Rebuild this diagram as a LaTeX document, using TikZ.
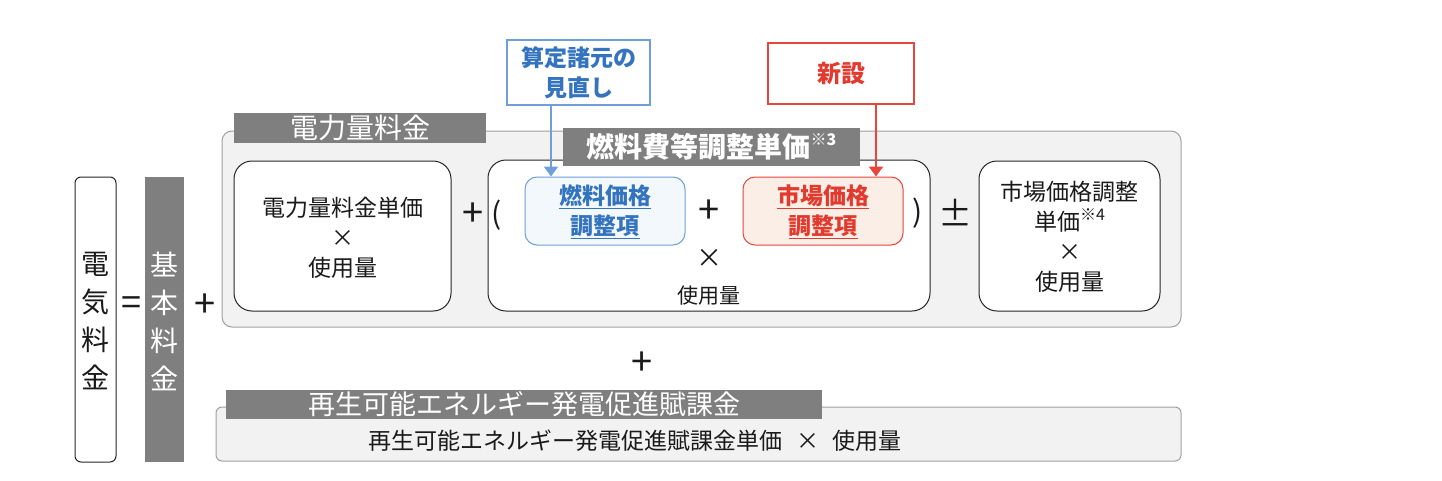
\documentclass[tikz,border=0pt]{standalone}
\usepackage{fontspec}
\setmainfont{Noto Sans CJK JP}
\usetikzlibrary{arrows.meta}
\definecolor{tabgray}{HTML}{7F7F7F}
\definecolor{panelfill}{HTML}{F2F2F2}
\definecolor{paneldraw}{HTML}{A0A0A0}
\definecolor{txtc}{HTML}{1A1A1A}
\definecolor{bluetxt}{HTML}{3474BE}
\definecolor{bluedraw}{HTML}{6F9FD8}
\definecolor{bluefill}{HTML}{F3F8FD}
\definecolor{redtxt}{HTML}{E23A2E}
\definecolor{reddraw}{HTML}{E8453C}
\definecolor{redfill}{HTML}{FBEEE6}
\newcommand{\fsz}[1]{\fontsize{#1}{#1}\selectfont}
\newcommand{\supnote}[1]{\raisebox{0.45em}{\fontsize{16}{16}\selectfont #1}}
\begin{document}
\begin{tikzpicture}[x=1pt,y=-1pt,
  every node/.style={inner sep=0pt, text=txtc},
  tabbox/.style={fill=tabgray, text=white},
  panel/.style={draw=paneldraw, fill=panelfill, line width=1pt, rounded corners=10pt},
  wbox/.style={draw=black!85, fill=white, line width=1pt, rounded corners=18pt},
  sym/.style={font=\fsz{38}},
  par/.style={font=\fsz{30}},
  bluearrow/.style={draw=bluedraw, line width=2pt, -{Triangle[length=10pt,width=14pt]}},
  redarrow/.style={draw=reddraw, line width=2pt, -{Triangle[length=10pt,width=14pt]}}]
\useasboundingbox (0,0) rectangle (1442,480);

% left column
\node[draw=black!85, fill=white, line width=1pt, rounded corners=6pt, minimum width=41pt, minimum height=285pt] (total) at (95.5,319.5) {};
\node[font=\fontsize{28}{38}\selectfont, align=center] (totaltxt) at (95.5,321) {電\\気\\料\\金};
\node[font=\fsz{36}] (eq) at (131,306) {=};
\node[fill=tabgray, minimum width=39pt, minimum height=285pt] (basic) at (164.5,319.5) {};
\node[font=\fontsize{28}{38}\selectfont, align=center, text=white] (basictxt) at (164.5,321) {基\\本\\料\\金};
\node[sym] (plus1) at (205,306) {+};

% energy charge panel
\node[panel, minimum width=959pt, minimum height=196pt] (panel) at (701.5,229) {};
\node[tabbox, minimum width=252pt, minimum height=30pt, font=\fsz{28}] (paneltab) at (360,128) {\textcolor{white}{電力量料金}};

\node[wbox, minimum width=217pt, minimum height=150pt] (box1) at (342.5,236) {};
\node[font=\fontsize{23}{30}\selectfont, align=center] (box1txt) at (342.5,238) {電力量料金単価\\×\\使用量};

\node[sym] (plus2) at (473,215) {+};

\node[wbox, minimum width=442pt, minimum height=151pt] (box2) at (709,235.5) {};
\node[par] (lpar) at (497,215) {(};
\node[tabbox, minimum width=297pt, minimum height=38pt, font=\bfseries\fsz{28}] (fueltab) at (711.5,147) {\textcolor{white}{燃料費等調整単価\supnote{※3}}};

\node[draw=bluedraw, fill=bluefill, line width=1pt, rounded corners=12pt, minimum width=160pt, minimum height=68pt] (blue) at (605,211) {};
\node[font=\bfseries\fontsize{23}{30}\selectfont, align=center, text=bluetxt] (bluetxt) at (605,212) {\underline{燃料価格}\\\underline{調整項}};
\node[sym] (plus3) at (709,212) {+};
\node[draw=reddraw, fill=redfill, line width=1pt, rounded corners=12pt, minimum width=160pt, minimum height=68pt] (red) at (823,211) {};
\node[font=\bfseries\fontsize{23}{30}\selectfont, align=center, text=redtxt] (redtxt) at (823,212) {\underline{市場価格}\\\underline{調整項}};
\node[par] (rpar) at (918,213) {)};
\node[font=\fsz{26}] (times2) at (709,258) {×};
\node[font=\fsz{21}] (use2) at (709,296) {使用量};

\node[font=\fsz{34}] (pm) at (955,213) {±};
\node[wbox, minimum width=181pt, minimum height=150pt] (box3) at (1069.5,236) {};
\node[font=\fontsize{23}{30}\selectfont, align=center] (box3txt) at (1069.5,237) {市場価格調整\\単価\supnote{※4}\\×\\使用量};

% annotation boxes
\node[draw=bluedraw, fill=white, line width=1.5pt, minimum width=143pt, minimum height=65pt] (note) at (578.5,72.5) {};
\node[font=\bfseries\fontsize{23}{30}\selectfont, align=center, text=bluetxt] (notetxt) at (578.5,73) {算定諸元の\\見直し};
\node[draw=reddraw, fill=white, line width=2pt, minimum width=146pt, minimum height=61pt] (shin) at (841,73.5) {};
\node[font=\bfseries\fsz{24}, text=redtxt] (shintxt) at (841,74) {新設};
\draw[bluearrow] ([xshift=-27.5pt]note.south) -- ([xshift=-27.5pt]note.south |- blue.north);
\draw[redarrow] ([xshift=35pt]shin.south) -- ([xshift=35pt]shin.south |- red.north);

% renewable surcharge
\node[sym] (plus4) at (642,364) {+};
\node[panel, rounded corners=6pt, minimum width=965pt, minimum height=54pt] (renew) at (698.5,434) {};
\node[tabbox, minimum width=596pt, minimum height=29pt, font=\fsz{27}] (renewtab) at (524,404.5) {\textcolor{white}{再生可能エネルギー発電促進賦課金}};
\node[font=\fsz{23}] (renewtxt) at (635,441) {再生可能エネルギー発電促進賦課金単価\hspace{0.6em}×\hspace{0.6em}使用量};
\end{tikzpicture}
\end{document}
